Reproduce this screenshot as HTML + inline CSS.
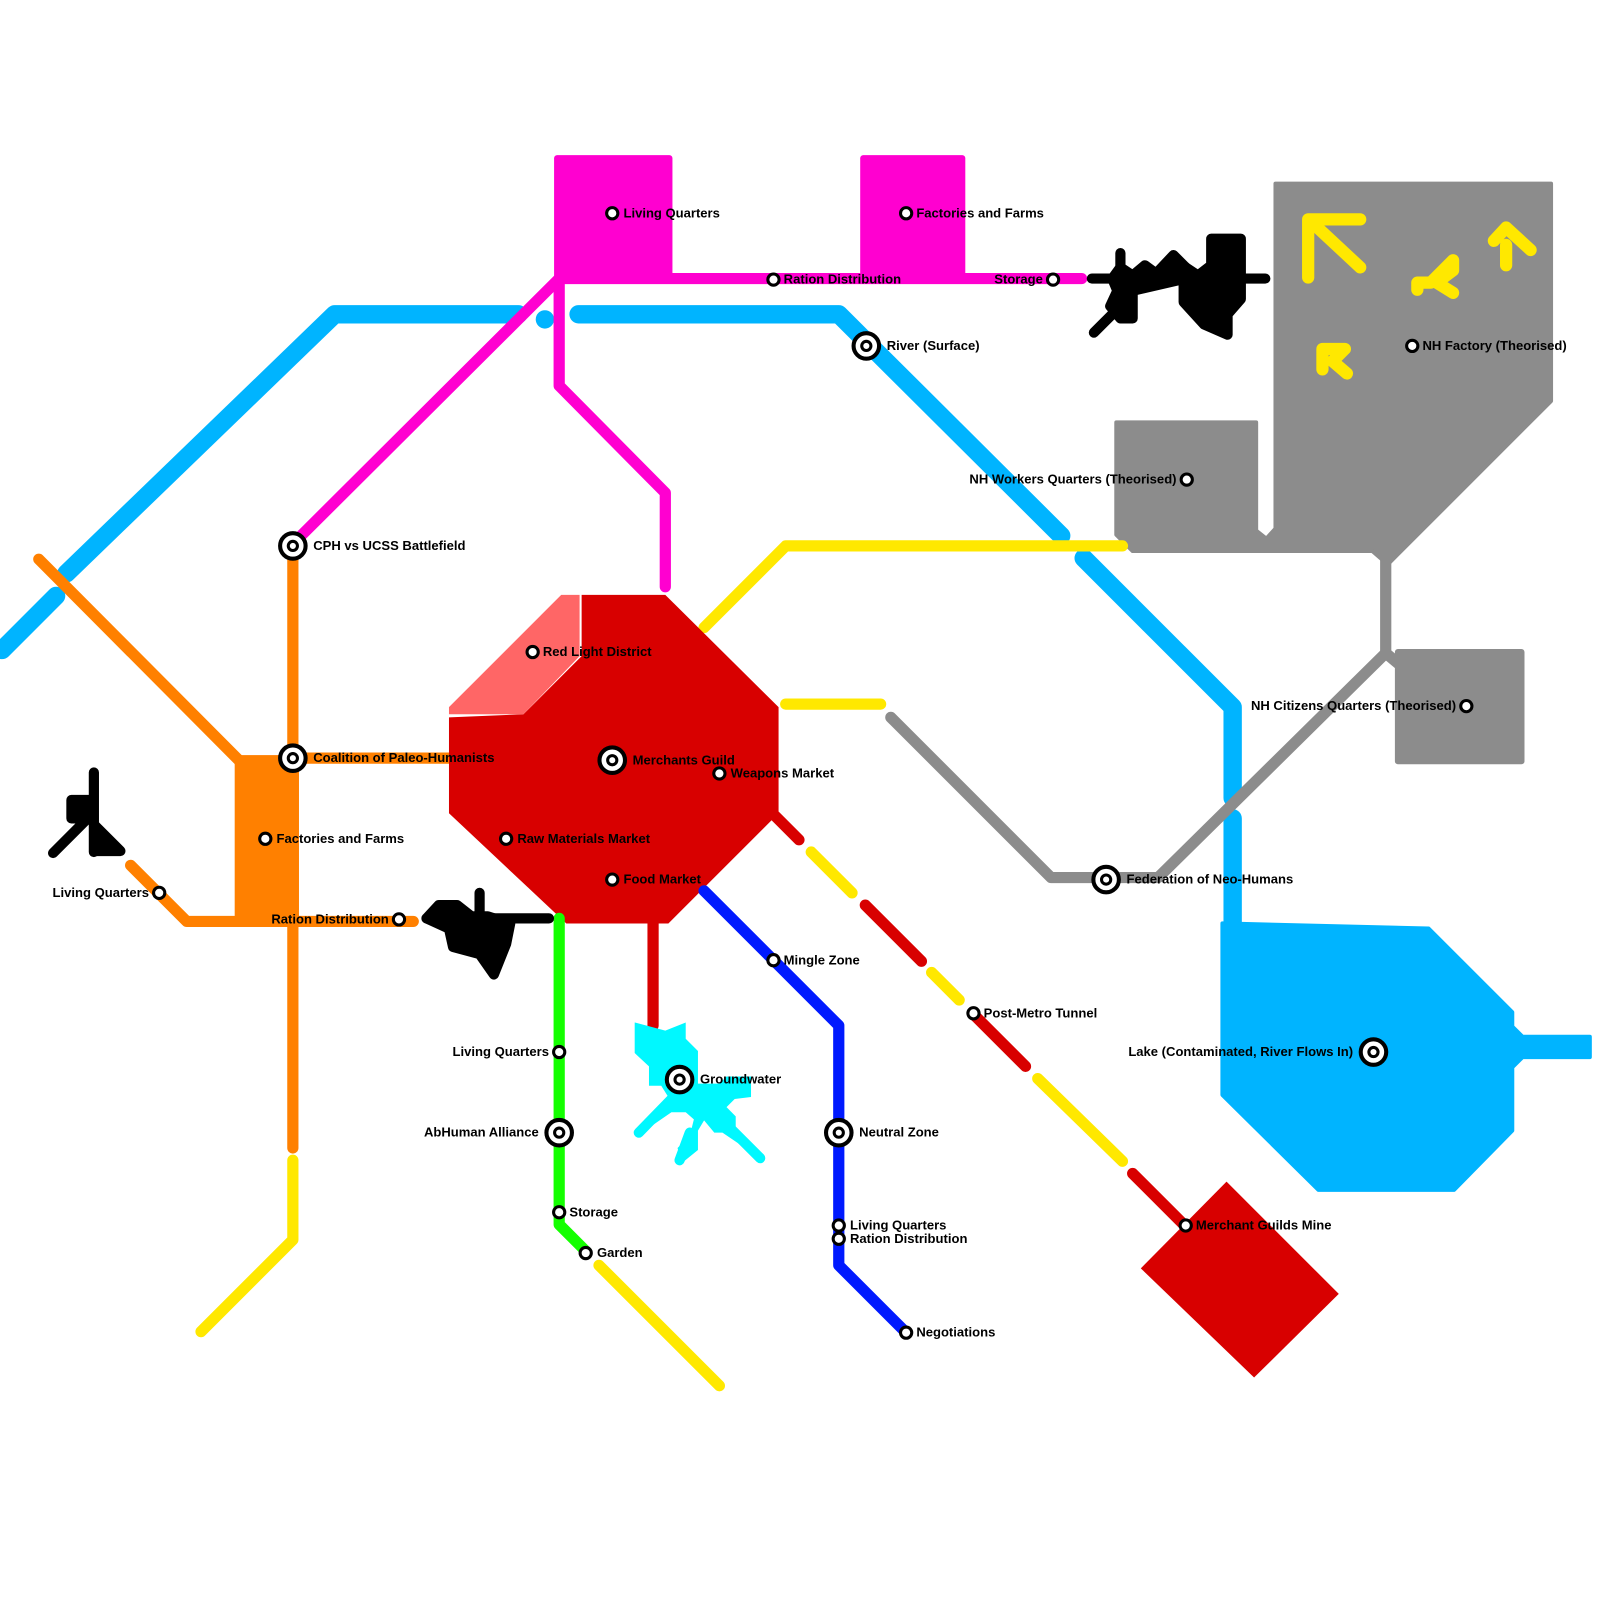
<!DOCTYPE html>
<html><head><meta charset="utf-8"><style>
html,body{margin:0;padding:0;background:#fff;}
svg{display:block;}
text{font-family:"Liberation Sans",sans-serif;font-weight:bold;font-size:12.8px;fill:#000;}
</style></head><body>
<svg width="1600" height="1600" viewBox="0 0 1568 1568" xmlns="http://www.w3.org/2000/svg">
<g fill="none" stroke-linecap="round" stroke-linejoin="round">
<g stroke="#00b4ff" stroke-width="18">
<path d="M2,637 L55,584 M65,562 L328,308 L508,308"/>
<path d="M567,308 L822,308 L1040,525"/>
<path d="M1062,547 L1208,693 L1208,782"/>
<path d="M1208,802 L1208,920"/>
</g>
<circle cx="534" cy="313" r="9" fill="#00b4ff"/>
<polygon fill="#00b4ff" points="1198,905 1400,910 1482,992 1482,1006 1492,1016 1558,1016 1558,1036 1492,1036 1482,1046 1482,1108 1425,1166 1292,1166 1198,1073" stroke="#00b4ff" stroke-width="4"/>
<polygon fill="#8c8c8c" stroke="#8c8c8c" stroke-width="4" points="1250,180 1520,180 1520,393 1360,553 1345,540 1110,540 1094,524 1094,414 1231,414 1231,520 1241,528 1250,518"/>
<rect x="1367" y="636" width="127" height="113" fill="#8c8c8c" rx="3"/>
<g stroke="#8c8c8c" stroke-width="11">
<path d="M1358,540 L1358,640 L1370,650"/>
<path d="M873,703 L1030,860 L1135,860 L1358,640"/>
</g>
<rect x="543" y="152" width="116" height="122" fill="#ff00d0" rx="3"/>
<rect x="843" y="152" width="103" height="122" fill="#ff00d0" rx="3"/>
<g stroke="#ff00d0" stroke-width="11">
<path d="M548,273 L1060,273"/>
<path d="M548,273 L548,378 L652,483 L652,575"/>
<path d="M548,273 L290,530"/>
</g>
<g stroke="#ff8000" stroke-width="11">
<path d="M38,548 L237,748"/>
<path d="M287,540 L287,1125"/>
<path d="M287,743 L440,743"/>
<path d="M128,848 L183,903 L405,903"/>
</g>
<rect x="230" y="740" width="63" height="165" fill="#ff8000"/>
<g stroke="#ffe800" stroke-width="11">
<path d="M287,1137 L287,1215 L197,1305"/>
<path d="M587,1240 L705,1358"/>
<path d="M690,615 L770,535 L1100,535"/>
<path d="M770,690 L863,690"/>
<path d="M795,835 L835,875 M913,953 L940,980 M1017,1057 L1100,1138"/>
</g>
<g stroke="#d80000" stroke-width="11">
<path d="M848,887 L903,942 M953,993 L1005,1045 M1110,1150 L1160,1200"/>
<path d="M760,800 L783,823"/>
<path d="M640,905 L640,1005"/>
</g>
<polygon fill="#d80000" points="570,583 652,583 763,693 763,797 655,905 555,905 440,797 440,703 513,700 570,643"/>
<polygon fill="#ff6666" points="440,693 550,583 568,583 568,643 513,700 440,700"/>
<polygon fill="#d80000" points="1118,1243 1202,1158 1312,1268 1229,1350"/>
<path stroke="#14ff00" stroke-width="11" d="M548,900 L548,1200 L575,1227"/>
<path stroke="#0019ff" stroke-width="11" d="M690,873 L822,1005 L822,1240 L888,1306"/>
<polygon fill="#00f8ff" points="622,1002 652,1010 672,1002 672,1018 684,1030 684,1062 705,1062 712,1055 736,1055 736,1075 720,1077 712,1085 721,1094 721,1105 745,1135 708,1110 700,1110 690,1098 684,1108 684,1127 668,1140 664,1125 676,1113 680,1097 672,1090 658,1090 626,1112 658,1080 648,1064 636,1064 636,1045 622,1032"/>
<g stroke="#00f8ff" stroke-width="10"><path d="M626,1110 L665,1070 M745,1135 L705,1095 M666,1137 L676,1110"/></g>
<g stroke="#000" stroke-width="10" fill="#000">
<path d="M92,757 L92,835 M52,836 L90,798 M70,784 L88,784 L88,802 L70,802Z M92,808 L118,834 L92,834"/>
<path d="M418,900 L538,900 M470,875 L470,905"/>
<polygon points="418,900 430,887 448,887 462,898 478,898 500,905 496,925 484,955 470,935 444,928 440,910"/>
<path d="M1070,273 L1240,273 M1098,248 L1098,300 M1072,326 L1098,300"/>
<polygon points="1090,273 1098,262 1110,270 1122,260 1133,268 1150,250 1162,262 1162,273 1110,285 1110,312 1098,312 1088,300 1095,285"/>
<polygon points="1187,234 1216,234 1216,293 1203,308 1203,328 1180,318 1160,296 1160,275 1150,256 1162,262 1174,270 1187,260"/>
</g>
<g stroke="#ffe800" stroke-width="12">
<path d="M1282,272 L1282,215 L1333,215 M1290,222 L1333,262"/>
<path d="M1389,284 L1389,277 L1402,277 L1424,255 L1424,265 L1408,277 L1424,287"/>
<path d="M1476,260 L1476,240 M1464,236 L1476,223 L1500,245"/>
<path d="M1296,362 L1296,342 L1318,342 L1306,354 L1320,366"/>
</g>
</g>
<g fill="#fff" stroke="#000" stroke-width="3">
<circle cx="600" cy="209" r="5.5"/><circle cx="888" cy="209" r="5.5"/><circle cx="758" cy="274" r="5.5"/><circle cx="1032" cy="274" r="5.5"/>
<circle cx="1384" cy="339" r="5.5"/><circle cx="1163" cy="470" r="5.5"/><circle cx="522" cy="639" r="5.5"/><circle cx="1437" cy="692" r="5.5"/>
<circle cx="705" cy="758" r="5.5"/><circle cx="496" cy="822" r="5.5"/><circle cx="260" cy="822" r="5.5"/><circle cx="600" cy="862" r="5.5"/>
<circle cx="156" cy="875" r="5.5"/><circle cx="391" cy="901" r="5.5"/><circle cx="758" cy="941" r="5.5"/><circle cx="954" cy="993" r="5.5"/>
<circle cx="548" cy="1031" r="5.5"/><circle cx="548" cy="1188" r="5.5"/><circle cx="822" cy="1201" r="5.5"/><circle cx="822" cy="1214" r="5.5"/>
<circle cx="1162" cy="1201" r="5.5"/><circle cx="574" cy="1228" r="5.5"/><circle cx="888" cy="1306" r="5.5"/>
</g>
<g fill="#fff" stroke="#000" stroke-width="4">
<circle cx="849" cy="339" r="12.5"/><circle cx="287" cy="535" r="12.5"/><circle cx="287" cy="743" r="12.5"/><circle cx="600" cy="745" r="12.5"/>
<circle cx="1084" cy="862" r="12.5"/><circle cx="1346" cy="1031" r="12.5"/><circle cx="666" cy="1058" r="12.5"/><circle cx="548" cy="1110" r="12.5"/><circle cx="822" cy="1110" r="12.5"/>
</g>
<g fill="#fff" stroke="#000" stroke-width="3">
<circle cx="849" cy="339" r="4.5"/><circle cx="287" cy="535" r="4.5"/><circle cx="287" cy="743" r="4.5"/><circle cx="600" cy="745" r="4.5"/>
<circle cx="1084" cy="862" r="4.5"/><circle cx="1346" cy="1031" r="4.5"/><circle cx="666" cy="1058" r="4.5"/><circle cx="548" cy="1110" r="4.5"/><circle cx="822" cy="1110" r="4.5"/>
</g>
<text x="611" y="213">Living Quarters</text>
<text x="898" y="213">Factories and Farms</text>
<text x="768" y="278">Ration Distribution</text>
<text x="1022" y="278" text-anchor="end">Storage</text>
<text x="869" y="343">River (Surface)</text>
<text x="1394" y="343">NH Factory (Theorised)</text>
<text x="1153" y="474" text-anchor="end">NH Workers Quarters (Theorised)</text>
<text x="307" y="539">CPH vs UCSS Battlefield</text>
<text x="532" y="643">Red Light District</text>
<text x="1427" y="696" text-anchor="end">NH Citizens Quarters (Theorised)</text>
<text x="307" y="747">Coalition of Paleo-Humanists</text>
<text x="620" y="749">Merchants Guild</text>
<text x="716" y="762">Weapons Market</text>
<text x="507" y="826">Raw Materials Market</text>
<text x="271" y="826">Factories and Farms</text>
<text x="611" y="866">Food Market</text>
<text x="1104" y="866">Federation of Neo-Humans</text>
<text x="146" y="879" text-anchor="end">Living Quarters</text>
<text x="381" y="905" text-anchor="end">Ration Distribution</text>
<text x="768" y="945">Mingle Zone</text>
<text x="964" y="997">Post-Metro Tunnel</text>
<text x="538" y="1035" text-anchor="end">Living Quarters</text>
<text x="1326" y="1035" text-anchor="end">Lake (Contaminated, River Flows In)</text>
<text x="686" y="1062">Groundwater</text>
<text x="528" y="1114" text-anchor="end">AbHuman Alliance</text>
<text x="842" y="1114">Neutral Zone</text>
<text x="558" y="1192">Storage</text>
<text x="833" y="1205">Living Quarters</text>
<text x="833" y="1218">Ration Distribution</text>
<text x="1172" y="1205">Merchant Guilds Mine</text>
<text x="585" y="1232">Garden</text>
<text x="898" y="1310">Negotiations</text>
</svg>
</body></html>
